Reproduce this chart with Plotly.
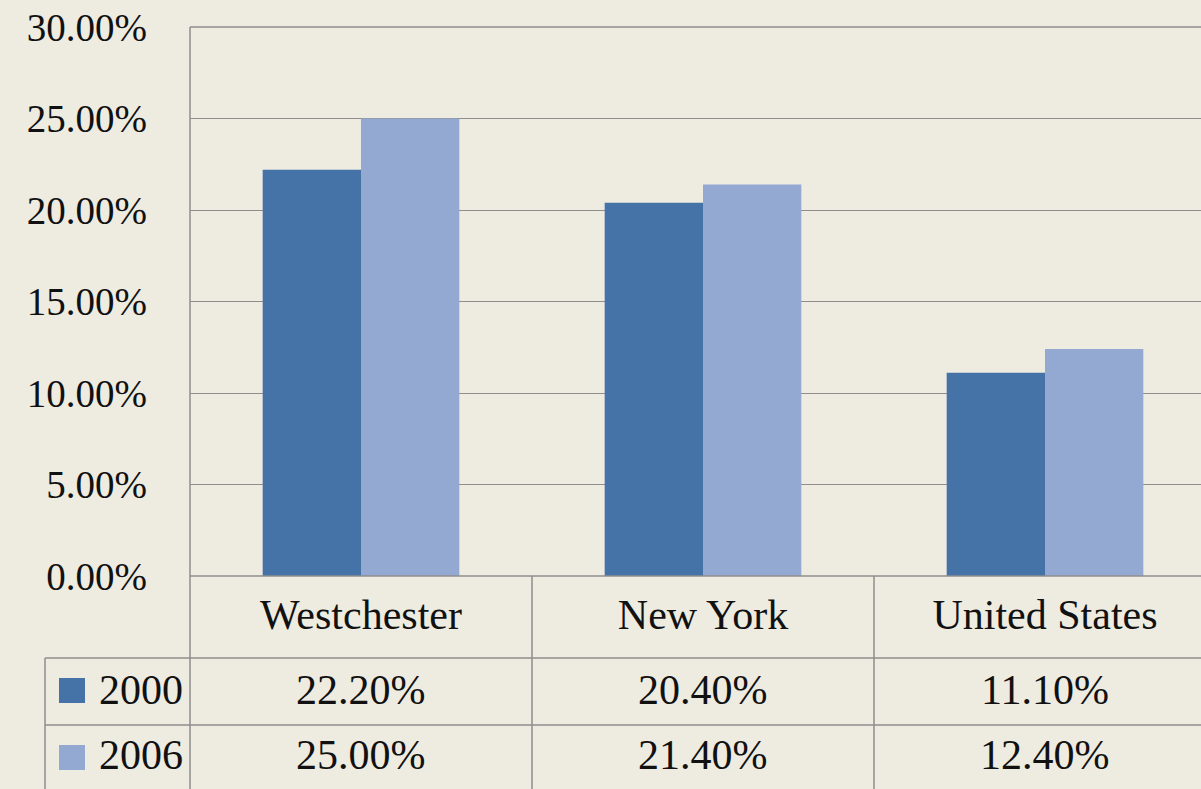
import plotly.graph_objects as go

categories = ["Westchester", "New York", "United States"]
series_names = ["2000", "2006"]
values_2000 = [22.2, 20.4, 11.1]
values_2006 = [25.0, 21.4, 12.4]
y_ticks = [0, 5, 10, 15, 20, 25, 30]
y_tick_labels = ["0.00%", "5.00%", "10.00%", "15.00%", "20.00%", "25.00%", "30.00%"]

colors = ["#4572A7", "#94A9D2"]
bg = "#EEEBE0"
line_col = "#8E8E8E"
font_family = "Liberation Serif, DejaVu Serif, serif"

W, H = 1201, 789
L, T, B = 190, 27, 213
plot_w = W - L
plot_h = H - T - B
cat_px = 342.0

def py(pixel_y):
    return (H - B - pixel_y) / plot_h

def px(pixel_x):
    return (pixel_x - L) / plot_w

fig = go.Figure()
for name, vals, c in zip(series_names, [values_2000, values_2006], colors):
    fig.add_trace(go.Bar(x=categories, y=vals, name=name, marker=dict(color=c, line=dict(width=0)),
                         showlegend=False))

x_end = -0.5 + plot_w / cat_px

fig.update_layout(
    width=W, height=H,
    margin=dict(l=L, r=0, t=T, b=B),
    paper_bgcolor=bg, plot_bgcolor=bg,
    barmode="group", bargap=0.425, bargroupgap=0,
    font=dict(family=font_family, color="#111111", size=42),
    xaxis=dict(range=[-0.5, x_end], showgrid=False, zeroline=False, showline=False,
               ticks="", tickfont=dict(size=42), ticklabelstandoff=10, fixedrange=True),
    yaxis=dict(range=[0, 30], tickvals=y_ticks, ticktext=y_tick_labels, showgrid=True,
               gridcolor=line_col, gridwidth=1.3, zeroline=False, showline=False,
               ticks="", tickfont=dict(size=39), ticklabelstandoff=42),
)

shapes = []
def hline(y0, x0, x1):
    shapes.append(dict(type="line", xref="paper", yref="paper", x0=x0, x1=x1, y0=y0, y1=y0,
                       line=dict(color=line_col, width=1.5)))
def vline(x0, y0, y1, xref="paper"):
    shapes.append(dict(type="line", xref=xref, yref="paper", x0=x0, x1=x0, y0=y0, y1=y1,
                       line=dict(color=line_col, width=1.5)))

# top border and zero line
hline(1.0, 0, 1)
hline(0.0, 0, 1)
# table rows
hline(py(658), px(45), 1)
hline(py(725), px(45), 1)
# verticals
vline(0, 1.0, py(H))
vline(px(45), py(658), py(H))
for b in [0.5, 1.5]:
    vline(b, 0, py(H), xref="x")

# legend keys
for i, c in enumerate(colors):
    top = 678 + i * 67
    shapes.append(dict(type="rect", xref="paper", yref="paper", x0=px(59), x1=px(85),
                       y0=py(top + 25), y1=py(top), fillcolor=c, line=dict(width=0)))

annotations = []
row_centers = [690, 755]
for i, (name, vals) in enumerate(zip(series_names, [values_2000, values_2006])):
    annotations.append(dict(xref="paper", yref="paper", x=px(97), y=py(row_centers[i]),
                            text=name, showarrow=False, xanchor="left", yanchor="middle",
                            font=dict(size=42)))
    for j, v in enumerate(vals):
        annotations.append(dict(xref="x", yref="paper", x=j, y=py(row_centers[i]),
                                text=f"{v:.2f}%", showarrow=False, xanchor="center",
                                yanchor="middle", font=dict(size=42)))

fig.update_layout(shapes=shapes, annotations=annotations)
fig.write_html("out.html", config={"displayModeBar": False},
               post_script="document.body.style.margin='0';document.body.style.overflow='hidden';")
